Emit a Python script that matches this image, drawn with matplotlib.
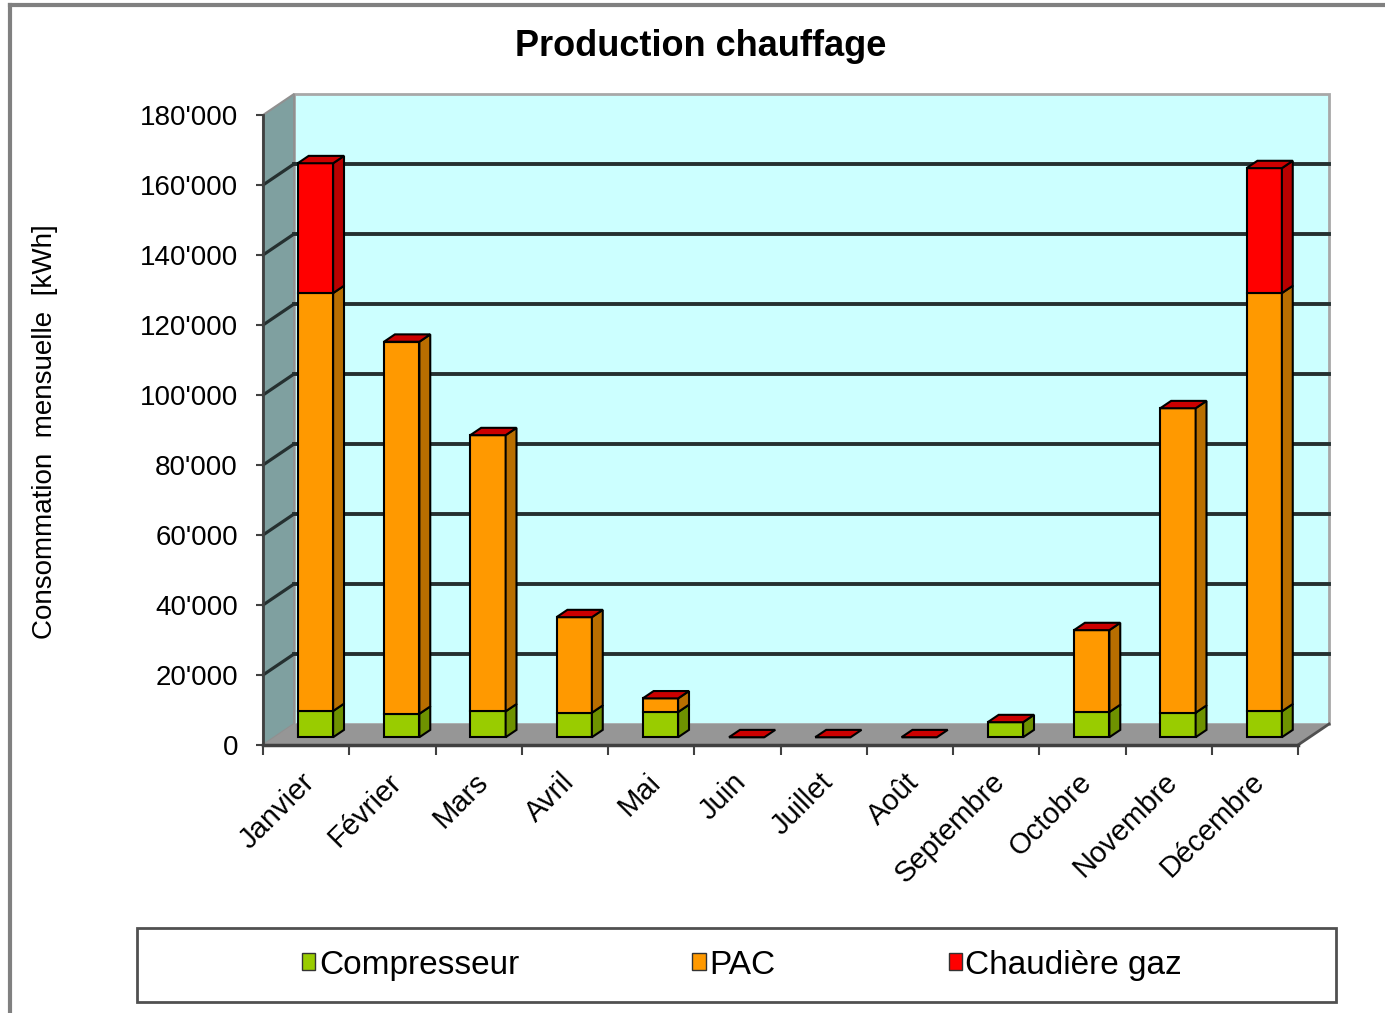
import numpy as np
import matplotlib
matplotlib.use("Agg")
import matplotlib.pyplot as plt
from matplotlib.patches import Polygon, Rectangle, Patch
from matplotlib.lines import Line2D
from matplotlib.ticker import FuncFormatter

plt.rcParams['font.family'] = ['Liberation Sans', 'DejaVu Sans']

# monthly heat production [kWh]
mois = ["Janvier", "Février", "Mars", "Avril", "Mai", "Juin", "Juillet", "Août",
        "Septembre", "Octobre", "Novembre", "Décembre"]
compresseur = [7500, 6700, 7400, 7000, 7200, 0, 0, 0, 4300, 7200, 7000, 7400]
pac = [119400, 106300, 78900, 27300, 3900, 0, 0, 0, 0, 23400, 87000, 119500]
chaudiere = [37100, 0, 0, 0, 0, 0, 0, 0, 0, 0, 0, 35700]
series = ["Compresseur", "PAC", "Chaudière gaz"]
yticks = list(range(0, 180001, 20000))

face = ["#99CC00", "#FF9900", "#FF0000"]
side = ["#6E9200", "#B86E00", "#B80000"]
top_col = "#CC0000"

W, H = 1385, 1013
fig = plt.figure(figsize=(W / 100, H / 100), dpi=100)
ax = fig.add_axes([263 / W, (H - 745) / H, 1035 / W, 630 / H])
ax.set_xlim(0, 12)
ax.set_ylim(0, 180000)
ax.patch.set_visible(False)

# depth of the 3d box: x in categories, y in kWh
DX, DY = 0.36, 6000
YMAX = 180000

def poly(pts, fc, ec="none", lw=0, z=1):
    ax.add_patch(Polygon(pts, closed=True, facecolor=fc, edgecolor=ec,
                         linewidth=lw, zorder=z, clip_on=False))

# walls and floor
poly([(DX, DY), (12 + DX, DY), (12 + DX, YMAX + DY), (DX, YMAX + DY)], "#CCFFFF", "#A8A8A8", 2, 0)
poly([(0, 0), (DX, DY), (DX, YMAX + DY), (0, YMAX)], "#7FA0A0", "#909090", 1.5, 0)
poly([(0, 0), (12, 0), (12 + DX, DY), (DX, DY)], "#969696", "none", 0, 0.5)

# gridlines on back and side wall
for v in yticks[1:-1]:
    ax.add_line(Line2D([DX, 12 + DX], [v + DY, v + DY], color="#253030", lw=2.8, zorder=1, clip_on=False))
    ax.add_line(Line2D([0, DX], [v, v + DY], color="#253030", lw=2.3, zorder=1, clip_on=False))
ax.add_line(Line2D([12, 12 + DX], [0, DY], color="#505050", lw=2, zorder=1, clip_on=False))

# stacked 3d columns
w = 0.41
f0, fd = 0.37, 0.35
xl = np.arange(12) + 0.475 - w / 2 + f0 * DX
b0 = f0 * DY
cum = np.zeros(12)
handles = []
for k, vals in enumerate([compresseur, pac, chaudiere]):
    vals = np.array(vals, dtype=float)
    ax.bar(xl + w / 2, vals, w, bottom=b0 + cum, color=face[k], edgecolor="black",
           linewidth=1.5, zorder=3)
    for i in range(12):
        if vals[i] > 0:
            ya, yb = b0 + cum[i], b0 + cum[i] + vals[i]
            xr = xl[i] + w
            poly([(xr, ya), (xr + fd * DX, ya + fd * DY), (xr + fd * DX, yb + fd * DY), (xr, yb)],
                 side[k], "black", 1.5, 3)
    cum += vals
    handles.append(Patch(facecolor=face[k], edgecolor="#333333", linewidth=1))

for i in range(12):
    t = b0 + cum[i]
    poly([(xl[i], t), (xl[i] + w, t), (xl[i] + w + fd * DX, t + fd * DY), (xl[i] + fd * DX, t + fd * DY)],
         top_col, "black", 1.5, 4)

# axes
for s in ["top", "right"]:
    ax.spines[s].set_visible(False)
ax.spines["left"].set_color("#404040")
ax.spines["left"].set_linewidth(2)
ax.spines["bottom"].set_color("#404040")
ax.spines["bottom"].set_linewidth(2.5)
ax.spines["bottom"].set_zorder(2)

ax.set_yticks(yticks)
ax.yaxis.set_major_formatter(FuncFormatter(lambda v, _: f"{int(v):,}".replace(",", "'")))
ax.tick_params(axis="y", direction="out", length=5, width=1.5, color="#404040",
               labelsize=20, pad=13)
ax.set_xticks(range(13))
ax.set_xticklabels([])
ax.tick_params(axis="x", direction="out", length=7, width=1.5, color="#404040")

for i, m in enumerate(mois):
    ax.text(i + 0.44, -6500, m, rotation=45, ha="right", va="top",
            rotation_mode="anchor", fontsize=21)

fig.text(45 / W, 1 - 432 / H, "Consommation  mensuelle  [kWh]", rotation=90,
         ha="center", va="center", fontsize=20)
fig.text(701 / W, 1 - 46 / H, "Production chauffage", ha="center", va="center",
         fontsize=26, fontweight="bold")

# legend with its own frame
fig.patches.append(Rectangle((137 / W, 1 - 1002 / H), (1336 - 137) / W, 74 / H,
                             transform=fig.transFigure, fill=False, edgecolor="#505050", linewidth=2))
fig.legend(handles, series, loc="center", bbox_to_anchor=(742 / W, 1 - 965 / H), ncol=3,
           frameon=False, fontsize=24, handlelength=0.4, handleheight=0.4,
           handletextpad=0.1, columnspacing=5.2)

# outer chart border
fig.add_artist(Line2D([10 / W, 10 / W], [0, 1 - 5 / H], transform=fig.transFigure, color="#808080", lw=3))
fig.add_artist(Line2D([10 / W, 1], [1 - 5 / H, 1 - 5 / H], transform=fig.transFigure, color="#808080", lw=3))

fig.savefig("out.png", dpi=100)
